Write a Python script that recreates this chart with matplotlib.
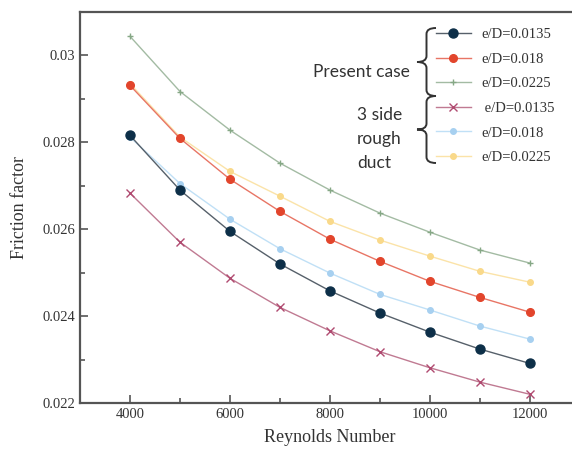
import matplotlib
matplotlib.use("Agg")
import matplotlib.pyplot as plt
from matplotlib.path import Path
from matplotlib.patches import PathPatch
from matplotlib.ticker import FuncFormatter, MultipleLocator

# Reynolds number vs friction factor
reynolds = [4000, 5000, 6000, 7000, 8000, 9000, 10000, 11000, 12000]

present_0135 = [0.02816, 0.0269, 0.02595, 0.0252, 0.02458, 0.02407, 0.02363, 0.02324, 0.02291]
present_018 = [0.02931, 0.02809, 0.02715, 0.02641, 0.02577, 0.02526, 0.0248, 0.02443, 0.02409]
present_0225 = [0.03044, 0.02917, 0.02828, 0.02752, 0.0269, 0.02637, 0.02593, 0.02552, 0.02522]

side3_0135 = [0.02683, 0.0257, 0.02487, 0.0242, 0.02366, 0.02318, 0.02281, 0.02248, 0.0222]
side3_018 = [0.02812, 0.02705, 0.02623, 0.02555, 0.02499, 0.0245, 0.02414, 0.02377, 0.02347]
side3_0225 = [0.02935, 0.02812, 0.02733, 0.02676, 0.02618, 0.02575, 0.02538, 0.02503, 0.02478]

labels = ["e/D=0.0135", "e/D=0.018", "e/D=0.0225",
          " e/D=0.0135", "e/D=0.018", "e/D=0.0225"]

W, H = 572, 457
serif = "Liberation Serif"

fig = plt.figure(figsize=(W / 100, H / 100), dpi=100)
ax = fig.add_axes([80 / W, 1 - 403 / H, 500 / W, (403 - 12) / H])

# (values, line colour, marker, marker face, marker size)
styles = [
    (present_0135, "#56606a", "o", "#0d2f48", 6.5),
    (present_018, "#e87565", "o", "#e2452c", 5.5),
    (present_0225, "#a3bba3", "+", "#86a886", 5),
    (side3_0135, "#c07a92", "x", "#b04a70", 6),
    (side3_018, "#c0e0f6", "o", "#a7d0f0", 4),
    (side3_0225, "#fbe3a8", "o", "#f9d98a", 4),
]

handles = []
for (vals, lc, mk, mc, ms), lab in zip(styles, labels):
    h, = ax.plot(reynolds, vals, color=lc, lw=1.0, marker=mk, ms=ms,
                 mfc=mc, mec=mc, mew=1.0, label=lab, zorder=3)
    handles.append(h)

# the 3-side duct lines sit behind the present case points
for h in handles[3:]:
    h.set_zorder(2)

ax.set_xlim(3000, 13000)
ax.set_ylim(0.022, 0.031)
ax.set_xticks([4000, 6000, 8000, 10000, 12000])
ax.xaxis.set_minor_locator(MultipleLocator(1000))
ax.set_yticks([0.022, 0.024, 0.026, 0.028, 0.030])
ax.yaxis.set_minor_locator(MultipleLocator(0.001))
ax.yaxis.set_major_formatter(FuncFormatter(lambda v, p: "%g" % round(v, 4)))

ax.tick_params(which="major", direction="in", length=6, width=1.2,
               color="#555555", labelsize=10.5, labelcolor="#333333")
ax.tick_params(which="minor", direction="in", length=3.5, width=1.2,
               color="#555555")
for lab in ax.get_xticklabels() + ax.get_yticklabels():
    lab.set_fontfamily(serif)

for side in ["left", "bottom", "top"]:
    ax.spines[side].set_color("#555555")
    ax.spines[side].set_linewidth(1.6)
ax.spines["right"].set_visible(False)

ax.set_xlabel("Reynolds Number", fontfamily=serif, fontsize=13, color="#333333", labelpad=6)
ax.set_ylabel("Friction factor", fontfamily=serif, fontsize=13, color="#333333", labelpad=10)

leg = ax.legend(handles=handles, loc="upper left",
                bbox_to_anchor=(436 / W, 1 - 28 / H), bbox_transform=fig.transFigure,
                frameon=False, handlelength=2.4, handletextpad=0.7,
                labelspacing=0.78, borderpad=0, borderaxespad=0,
                prop={"family": serif, "size": 10.5})
for t in leg.get_texts():
    t.set_color("#333333")


def brace(x_right, x_tip, y_top, y_bot):
    # curly brace in pixel coordinates (y from the top), opening to the right
    xm = (x_right + x_tip) / 2
    ym = (y_top + y_bot) / 2
    r = 6
    pts = [
        (x_right, y_top), (xm, y_top), (xm, y_top + r),
        (xm, ym - r), (xm, ym), (x_tip, ym),
        (xm, ym), (xm, ym + r),
        (xm, y_bot - r), (xm, y_bot), (x_right, y_bot),
    ]
    codes = [Path.MOVETO, Path.CURVE3, Path.CURVE3,
             Path.LINETO, Path.CURVE3, Path.CURVE3,
             Path.CURVE3, Path.CURVE3,
             Path.LINETO, Path.CURVE3, Path.CURVE3]
    verts = [(x / W, 1 - y / H) for x, y in pts]
    fig.add_artist(PathPatch(Path(verts, codes), fill=False, lw=1.4,
                             ec="#333333", transform=fig.transFigure))


brace(436, 417, 28, 96)
brace(436, 417, 96, 163)

fig.text(361 / W, 1 - 72 / H, "Present case", fontfamily="Lato", fontsize=12.5,
         color="#333333", ha="center", va="center")
fig.text(357 / W, 1 - 139 / H, "3 side\nrough\nduct", fontfamily="Lato", fontsize=12.5,
         color="#333333", ha="left", va="center", linespacing=1.6)

fig.savefig("out.png", dpi=100)
